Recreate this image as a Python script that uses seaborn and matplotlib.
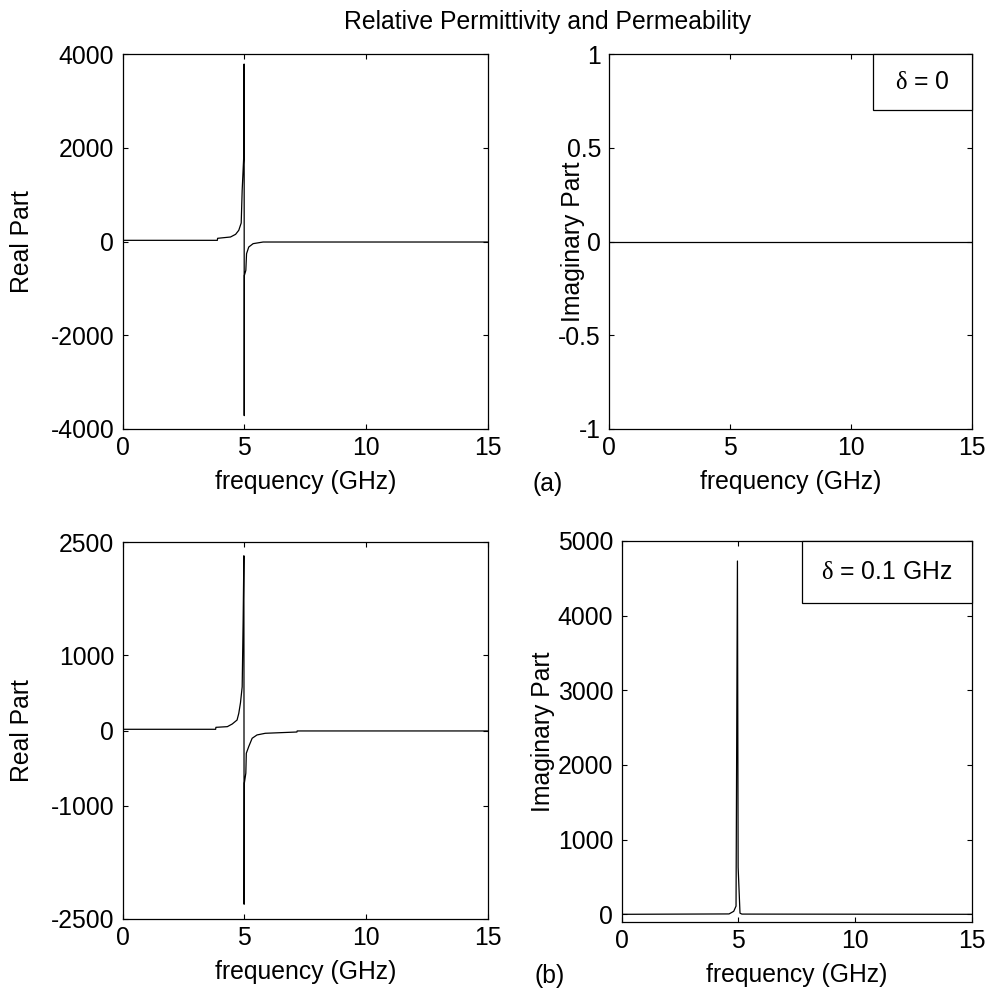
import matplotlib
matplotlib.use("Agg")
import matplotlib.pyplot as plt
from matplotlib.patches import Rectangle
import seaborn as sns

# ---- data (frequency in GHz) ----
# (a) lossless case, delta = 0
freq_a = [0, 3.89, 3.90, 4.43, 4.64, 4.77, 4.87, 4.91, 4.98, 4.99,
          4.995, 5.00, 5.06, 5.09, 5.18, 5.36, 5.77, 15]
real_a = [25, 25, 68, 96, 153, 239, 395, 1094, 1877, 3786,
          -3715, -723, -616, -260, -118, -46, -11, -11]
freq_a_imag = [0, 15]
imag_a = [0, 0]

# (b) lossy case, delta = 0.1 GHz
freq_b = [0, 3.82, 3.83, 4.30, 4.50, 4.70, 4.77, 4.84, 4.91, 4.95, 4.98,
          4.99, 5.00, 5.06, 5.08, 5.18, 5.32, 5.52, 5.86, 7.16, 7.17, 15]
real_b = [18, 18, 44, 53, 88, 141, 229, 370, 581, 1463, 2321,
          -2304, -696, -564, -300, -211, -101, -57, -35, -18, -4, -4]
freq_b_imag = [0, 4.60, 4.80, 4.90, 4.96, 4.99, 5.07, 5.15, 15]
imag_b = [0, 5, 40, 110, 4732, 630, 15, 3, 0]

x_ticks = [0, 5, 10, 15]
yticks_real_a = [-4000, -2000, 0, 2000, 4000]
yticks_imag_a = [-1, -0.5, 0, 0.5, 1]
yticks_real_b = [-2500, -1000, 0, 1000, 2500]
yticks_imag_b = [0, 1000, 2000, 3000, 4000, 5000]

sns.set_style("ticks")
plt.rcParams["font.family"] = ["Liberation Sans", "DejaVu Sans"]
plt.rcParams["mathtext.fontset"] = "custom"
plt.rcParams["mathtext.rm"] = "Liberation Serif"
plt.rcParams["mathtext.it"] = "Liberation Serif:italic"
for key in ("text.color", "axes.labelcolor", "xtick.color", "ytick.color",
            "axes.edgecolor"):
    plt.rcParams[key] = "black"

FS = 17.8
fig = plt.figure(figsize=(9.89, 9.94), dpi=100)

W, H = 989.0, 994.0
def add_axes(left, top, right, bottom):
    return fig.add_axes([left / W, 1 - bottom / H, (right - left) / W, (bottom - top) / H])

ax_tl = add_axes(122.7, 54, 487.7, 429)
ax_tr = add_axes(609.3, 54, 971.7, 429)
ax_bl = add_axes(122.7, 542.3, 487.7, 919)
ax_br = add_axes(621.7, 541, 971.7, 922)

panels = [
    (ax_tl, freq_a, real_a, yticks_real_a, (-4000, 4000), "Real Part", -0.243),
    (ax_tr, freq_a_imag, imag_a, yticks_imag_a, (-1, 1), "Imaginary Part", -0.066),
    (ax_bl, freq_b, real_b, yticks_real_b, (-2500, 2500), "Real Part", -0.243),
    (ax_br, freq_b_imag, imag_b, yticks_imag_b, (-103, 5000), "Imaginary Part", -0.19),
]

for ax, fx, fy, yt, ylim, ylab, ylab_x in panels:
    sns.lineplot(x=fx, y=fy, ax=ax, color="black", linewidth=0.9,
                 estimator=None, sort=False)
    ax.set_xlim(0, 15)
    ax.set_ylim(*ylim)
    ax.set_xticks(x_ticks)
    ax.set_yticks(yt)
    ax.set_yticklabels([f"{v:g}" for v in yt])
    ax.tick_params(direction="in", top=True, right=True, length=3.5,
                   width=0.8, labelsize=FS, colors="black")
    ax.tick_params(axis="x", pad=5)
    ax.tick_params(axis="y", pad=6)
    for sp in ax.spines.values():
        sp.set_visible(True)
        sp.set_linewidth(0.9)
        sp.set_color("black")
    ax.set_xlabel("frequency (GHz)", fontsize=FS)
    ax.set_ylabel(ylab, fontsize=FS)
    h = ax.get_position().height * H
    ax.xaxis.set_label_coords(0.5, -41.0 / h)
    ax.yaxis.set_label_coords(ylab_x, 0.5)

# annotation boxes for the loss parameter
def delta_box(ax, x0, h, text):
    ax.add_patch(Rectangle((x0, 1 - h), 1 - x0, h, transform=ax.transAxes,
                           facecolor="white", edgecolor="black", linewidth=0.9,
                           clip_on=False, zorder=5))
    ax.text(x0 + (1 - x0) / 2, 1 - h / 2, text, transform=ax.transAxes,
            ha="center", va="center", fontsize=FS, zorder=6)

delta_box(ax_tr, 0.7276, 0.149, r"$\mathrm{\delta}$ = 0")
delta_box(ax_br, 0.514, 0.163, r"$\mathrm{\delta}$ = 0.1 GHz")

fig.text(547.5 / W, 1 - 22 / H, "Relative Permittivity and Permeability",
         ha="center", va="center", fontsize=FS)
fig.text(548 / W, 1 - 484 / H, "(a)", ha="center", va="center", fontsize=FS)
fig.text(550 / W, 1 - 976 / H, "(b)", ha="center", va="center", fontsize=FS)

fig.savefig("out.png", dpi=100, facecolor="white")
